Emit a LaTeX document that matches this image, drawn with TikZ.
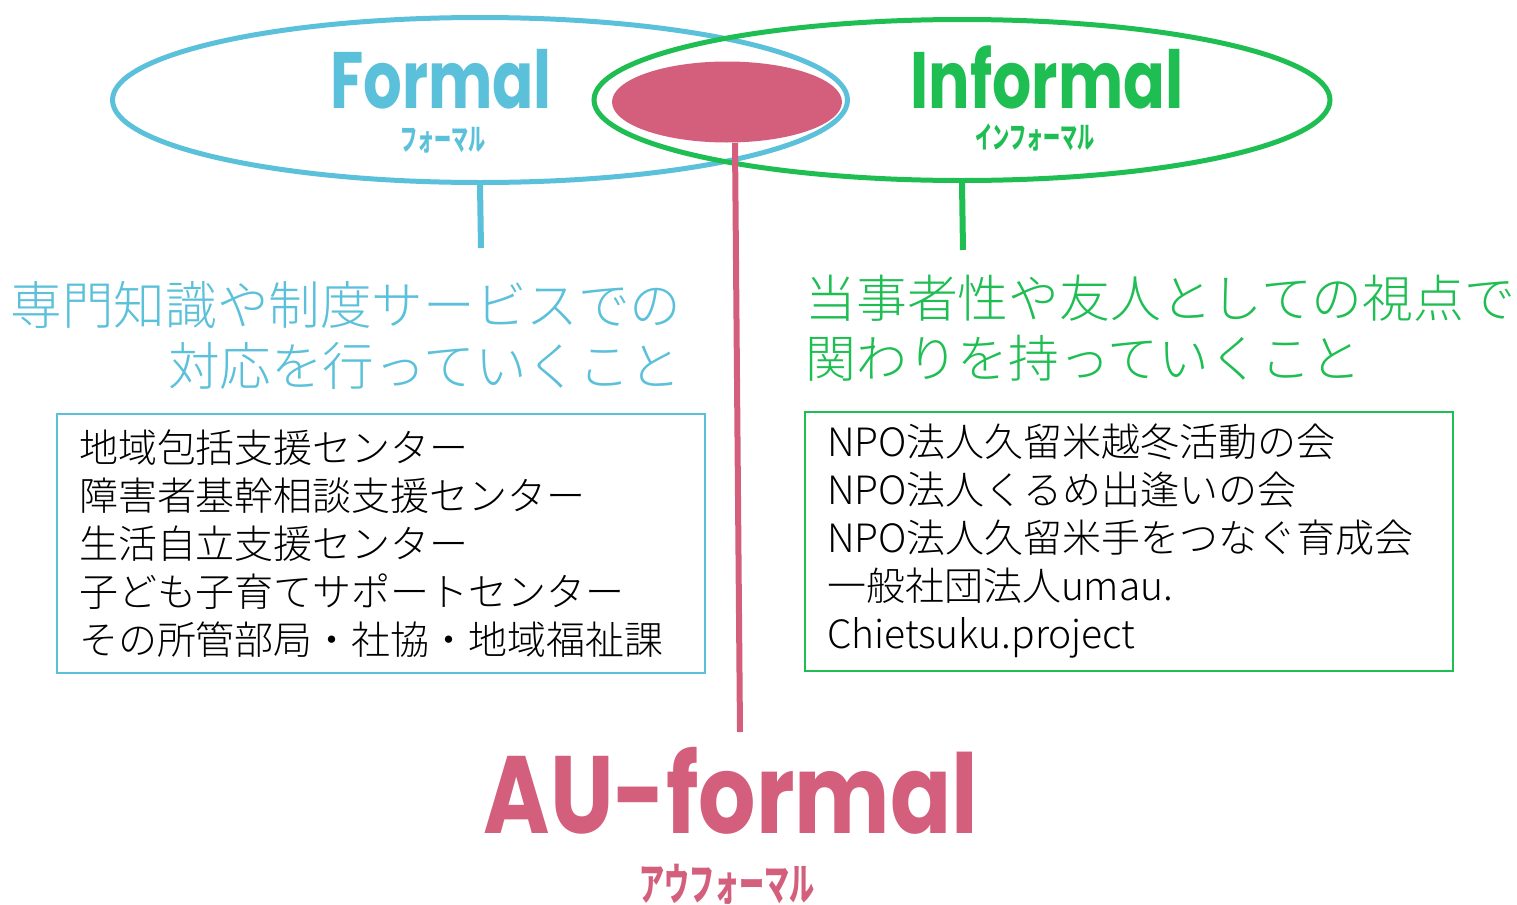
\documentclass[tikz,border=0pt]{standalone}
\usepackage{fontspec}
\usetikzlibrary{shapes.geometric}

\newfontfamily\jpfont{Noto Sans CJK JP Light}
\newfontfamily\jpbold{Noto Sans CJK JP}
\newfontfamily\titlefont{Poppins}

\definecolor{celeste}{RGB}{91,192,218}
\definecolor{verde}{RGB}{30,190,82}
\definecolor{rosa}{RGB}{212,95,124}

\begin{document}
\begin{tikzpicture}[x=0.5pt, y=-0.5pt,
    elipse/.style={ellipse, draw, line width=2.5pt, inner sep=0pt},
    titulo/.style={font=\titlefont\bfseries\fontsize{40}{42}\selectfont, inner sep=0pt,
        anchor=base, text height=27pt, text depth=0pt},
    kana/.style={font=\jpbold\bfseries\fontsize{15}{16}\selectfont, inner sep=0pt,
        anchor=base, text height=11pt, text depth=0pt},
    lema/.style={font=\jpfont\fontsize{25.8}{30.5}\selectfont, inner sep=0pt},
    caja/.style={draw, line width=1pt, anchor=north west, minimum width=324pt,
        minimum height=129.5pt, text width=302pt, inner xsep=11pt, align=left,
        font=\jpfont\fontsize{19.5}{24}\selectfont},
    palo/.style={line width=3pt}]
    \useasboundingbox (0,0) rectangle (1517,905);

    % Elipses
    \node[elipse, draw=celeste, minimum width=367.5pt, minimum height=82.5pt] (formal) at (480,100) {};
    \node[elipse, draw=verde, minimum width=368pt, minimum height=80.5pt] (informal) at (962,100) {};
    \node[ellipse, fill=rosa, inner sep=0pt, minimum width=115pt, minimum height=40.5pt] (auformal) at (727,102) {};

    % Titulos
    \node[titulo, text=celeste] (formaltit) at (441,108) {\scalebox{0.76}[1]{Formal}};
    \node[kana, text=celeste] (formalkana) at (443,150) {\scalebox{0.57}[1]{フォーマル}};
    \node[titulo, text=verde] (informaltit) at (1047,108) {\scalebox{0.77}[1]{Informal}};
    \node[kana, text=verde] (informalkana) at (1035,148) {\scalebox{0.57}[1]{インフォーマル}};
    \node[titulo, text=rosa, font=\titlefont\bfseries\fontsize{55}{57}\selectfont, text height=38pt] (aufortit) at (731,833) {\scalebox{0.82}[1]{AU-formal}};
    \node[kana, text=rosa, font=\jpbold\bfseries\fontsize{22}{23}\selectfont, text height=16pt] (auforkana) at (727,900) {\scalebox{0.57}[1]{アウフォーマル}};

    % Lemas
    \node[lema, text=celeste, align=right, anchor=east] (formallema) at (682,335) {専門知識や制度サービスでの\\対応を行っていくこと};
    \node[lema, text=verde, align=left, anchor=west, font=\jpfont\fontsize{25.4}{30}\selectfont] (informallema) at (805,328) {当事者性や友人としての視点で\\関わりを持っていくこと};

    % Cajas
    \node[caja, draw=celeste] (formalcaja) at (56,413) {地域包括支援センター\\障害者基幹相談支援センター\\生活自立支援センター\\子ども子育てサポートセンター\\その所管部局・社協・地域福祉課};
    \node[caja, draw=verde] (informalcaja) at (804,411) {NPO法人久留米越冬活動の会\\NPO法人くるめ出逢いの会\\NPO法人久留米手をつなぐ育成会\\一般社団法人umau.\\Chietsuku.project};

    % Palos
    \coordinate (formalpie) at (481,248);
    \coordinate (informalpie) at (963,250);
    \coordinate (auformalpie) at (740,732);
    \draw[palo, celeste] (formal.south) -- (formalpie);
    \draw[palo, verde] (informal.south) -- (informalpie);
    \draw[palo, rosa] ([xshift=4pt]auformal.south) -- (auformalpie);
\end{tikzpicture}
\end{document}
